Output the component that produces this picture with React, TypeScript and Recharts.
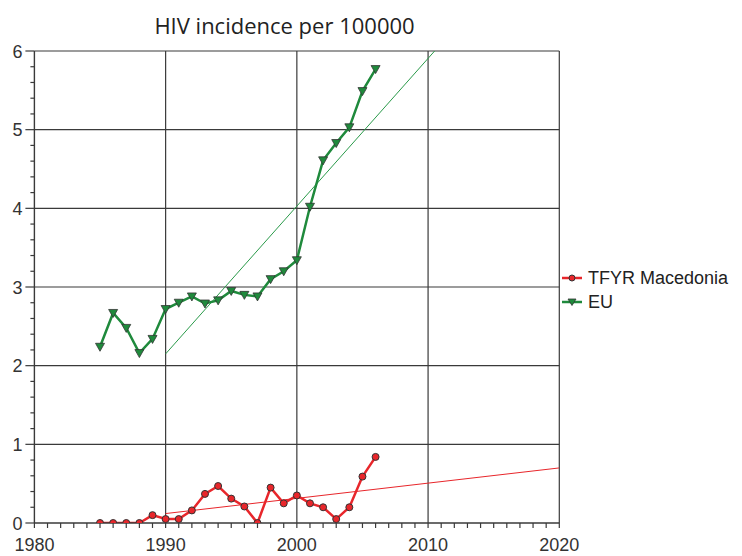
import React from 'react';
import { LineChart, Line, XAxis, YAxis, ReferenceLine, Legend } from 'recharts';

const years = [1985, 1986, 1987, 1988, 1989, 1990, 1991, 1992, 1993, 1994, 1995, 1996, 1997, 1998, 1999, 2000, 2001, 2002, 2003, 2004, 2005, 2006];
const macedonia = [0, 0, 0, 0, 0.10, 0.05, 0.05, 0.16, 0.37, 0.47, 0.31, 0.21, 0, 0.45, 0.25, 0.35, 0.25, 0.20, 0.05, 0.20, 0.59, 0.84];
const eu = [2.24, 2.67, 2.48, 2.16, 2.34, 2.72, 2.80, 2.88, 2.79, 2.83, 2.95, 2.90, 2.88, 3.10, 3.20, 3.34, 4.02, 4.61, 4.83, 5.03, 5.49, 5.77];

const macTrendX = [1990, 2020];
const macTrendY = [0.12, 0.70];
const euTrendX = [1990, 2010.5];
const euTrendY = [2.15, 6.0];

const xMajorTicks = [1980, 1990, 2000, 2010, 2020];
const yMajorTicks = [0, 1, 2, 3, 4, 5, 6];
const xGrid = [1990, 2000, 2010, 2020];
const yGrid = [1, 2, 3, 4, 5, 6];

const seriesNames = ['TFYR Macedonia', 'EU'];

const RED = '#e8262b';
const GREEN = '#1f8a3c';
const GREEN_TREND = '#2a9a4a';
const GRID = '#3a3a3a';
const FONT = '"Liberation Sans", Arial, sans-serif';

const xMinor: number[] = [];
for (let v = 1980; v <= 2020; v++) xMinor.push(v);
const yMinor: number[] = [];
for (let i = 0; i <= 30; i++) yMinor.push(Math.round(i * 2) / 10);

const macData = years.map((x, i) => ({ x, y: macedonia[i] }));
const euData = years.map((x, i) => ({ x, y: eu[i] }));
const macTrend = macTrendX.map((x, i) => ({ x, y: macTrendY[i] }));
const euTrend = euTrendX.map((x, i) => ({ x, y: euTrendY[i] }));

const XTick = (props: any) => {
  const { x, y, payload } = props;
  const v = payload.value;
  const major = xMajorTicks.includes(v);
  return (
    <g>
      <line x1={x} x2={x} y1={y} y2={y + 5} stroke={GRID} strokeWidth={1.2} />
      {major && (
        <text x={x} y={y + 28} textAnchor="middle" fontSize={18} fontFamily={FONT} fill="#333">
          {v}
        </text>
      )}
    </g>
  );
};

const YTick = (props: any) => {
  const { x, y, payload } = props;
  const v = payload.value;
  const major = yMajorTicks.some((t) => Math.abs(v - t) < 1e-6);
  return (
    <g>
      <line x1={x - (major ? 9 : 4)} x2={x} y1={y} y2={y} stroke={GRID} strokeWidth={1.2} />
      {major && (
        <text x={x - 12} y={y + 6.5} textAnchor="end" fontSize={18} fontFamily={FONT} fill="#333">
          {Math.round(v)}
        </text>
      )}
    </g>
  );
};

const CircleDot = (props: any) => {
  const { cx, cy, index } = props;
  if (cx == null || cy == null) return <g key={index} />;
  return <circle key={index} cx={cx} cy={cy} r={3.5} fill={RED} stroke="#333" strokeWidth={1} />;
};

const TriDot = (props: any) => {
  const { cx, cy, index } = props;
  if (cx == null || cy == null) return <g key={index} />;
  const pts = `${cx - 4.5},${cy - 3.5} ${cx + 4.5},${cy - 3.5} ${cx},${cy + 4.5}`;
  return <polygon key={index} points={pts} fill={GREEN} stroke="#333" strokeWidth={0.8} />;
};

const LegendContent = () => (
  <div style={{ fontFamily: FONT, fontSize: 18, color: '#222' }}>
    {seriesNames.map((name, i) => (
      <div key={name} style={{ display: 'flex', alignItems: 'center', height: 24, lineHeight: '24px' }}>
        <svg width={24} height={12} style={{ marginRight: 3 }}>
          <line x1={1} x2={21} y1={6} y2={6} stroke={i === 0 ? RED : GREEN} strokeWidth={2.5} />
          {i === 0 ? (
            <circle cx={11} cy={6} r={3} fill={RED} stroke="#333" strokeWidth={1} />
          ) : (
            <polygon points="7,3 15,3 11,9.5" fill={GREEN} stroke="#333" strokeWidth={0.8} />
          )}
        </svg>
        <span>{name}</span>
      </div>
    ))}
  </div>
);

export default function App() {
  return (
    <div style={{ position: 'absolute', left: 0, top: 0, width: 742, height: 556, background: '#fff' }}>
      <svg width={742} height={50} style={{ position: 'absolute', left: 0, top: 0 }}>
        <text x={284.5} y={34} textAnchor="middle" fontSize={22} fontFamily='"Open Sans", "Noto Sans", sans-serif' fill="#222">
          HIV incidence per 100000
        </text>
      </svg>
      <div style={{ position: 'absolute', left: 0, top: 0 }}>
        <LineChart width={742} height={556} margin={{ top: 51, right: 182.7, left: 4.4, bottom: 3 }}>
          <XAxis
            type="number"
            dataKey="x"
            domain={[1980, 2020]}
            ticks={xMinor}
            interval={0}
            tickLine={false}
            tickSize={0}
            tickMargin={0}
            tick={<XTick />}
            axisLine={{ stroke: GRID, strokeWidth: 1.4 }}
            height={30}
            allowDataOverflow
          />
          <YAxis
            type="number"
            domain={[0, 6]}
            ticks={yMinor}
            interval={0}
            tickLine={false}
            tickSize={0}
            tickMargin={0}
            tick={<YTick />}
            axisLine={{ stroke: GRID, strokeWidth: 1.4 }}
            width={30}
            allowDataOverflow
          />
          {xGrid.map((v) => (
            <ReferenceLine key={'xg' + v} x={v} stroke={GRID} strokeWidth={1.2} />
          ))}
          {yGrid.map((v) => (
            <ReferenceLine key={'yg' + v} y={v} stroke={GRID} strokeWidth={1.2} />
          ))}
          <Line data={macTrend} dataKey="y" stroke={RED} strokeWidth={1} dot={false} isAnimationActive={false} legendType="none" />
          <Line data={euTrend} dataKey="y" stroke={GREEN_TREND} strokeWidth={1} dot={false} isAnimationActive={false} legendType="none" />
          <Line data={macData} dataKey="y" name={seriesNames[0]} stroke={RED} strokeWidth={2.5} dot={CircleDot} isAnimationActive={false} />
          <Line data={euData} dataKey="y" name={seriesNames[1]} stroke={GREEN} strokeWidth={2.5} dot={TriDot} isAnimationActive={false} />
          <Legend
            layout="vertical"
            align="center"
            verticalAlign="middle"
            content={<LegendContent />}
            wrapperStyle={{ position: 'absolute', left: 561, top: 266, width: 180 }}
          />
        </LineChart>
      </div>
    </div>
  );
}
